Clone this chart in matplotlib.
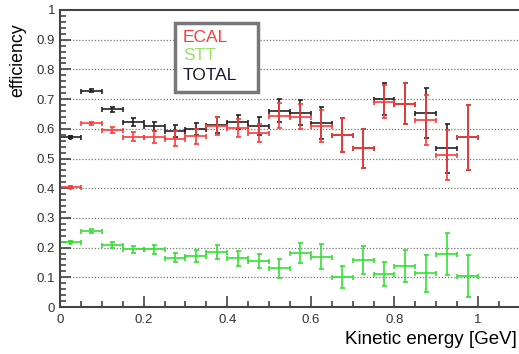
import matplotlib.pyplot as plt
from matplotlib.ticker import MultipleLocator

# bin centres [GeV], half-width 0.025
energy = [0.025, 0.075, 0.125, 0.175, 0.225, 0.275, 0.325, 0.375, 0.425, 0.475,
          0.525, 0.575, 0.625, 0.675, 0.725, 0.775, 0.825, 0.875, 0.925, 0.975]
half_bin = 0.025

ecal = [0.405, 0.618, 0.596, 0.573, 0.573, 0.567, 0.575, 0.609, 0.604, 0.587,
        0.644, 0.641, 0.609, 0.580, 0.534, 0.691, 0.684, 0.630, 0.512, 0.571]
ecal_err = [0.003, 0.006, 0.010, 0.015, 0.020, 0.025, 0.025, 0.030, 0.030, 0.030,
            0.042, 0.042, 0.055, 0.057, 0.065, 0.056, 0.069, 0.085, 0.084, 0.110]

stt = [0.220, 0.255, 0.208, 0.194, 0.194, 0.166, 0.172, 0.185, 0.164, 0.155,
       0.130, 0.181, 0.170, 0.102, 0.158, 0.111, 0.137, 0.113, 0.178, 0.104]
stt_err = [0.002, 0.006, 0.010, 0.012, 0.015, 0.015, 0.020, 0.025, 0.025, 0.025,
           0.031, 0.034, 0.042, 0.037, 0.048, 0.040, 0.054, 0.061, 0.070, 0.071]

total = [0.573, 0.728, 0.666, 0.623, 0.609, 0.594, 0.598, 0.613, 0.623, 0.610,
         0.661, 0.654, 0.618, 0.580, 0.534, 0.700, 0.684, 0.652, 0.534, 0.571]
total_err = [0.003, 0.005, 0.008, 0.014, 0.015, 0.020, 0.020, 0.027, 0.025, 0.030,
             0.039, 0.042, 0.054, 0.057, 0.065, 0.055, 0.069, 0.084, 0.083, 0.110]

plt.rcParams['font.family'] = ['Liberation Sans', 'DejaVu Sans']

fig = plt.figure(figsize=(5.19, 3.54), dpi=100)
ax = fig.add_axes([60 / 519, 47 / 354, 1 - 60 / 519, 297 / 354])

for vals, errs, col in [(total, total_err, '#222222'),
                        (ecal, ecal_err, '#ff3b3b'),
                        (stt, stt_err, '#33e033')]:
    ax.errorbar(energy, vals, xerr=half_bin, yerr=errs, fmt='none', ecolor=col,
                elinewidth=1.2, capsize=1.8, capthick=1.2)
    ax.plot(energy[0], vals[0], 'o', color=col, ms=2.5)

ax.set_xlim(0, 1.098)
ax.set_ylim(0, 1)
for y in [0.1, 0.2, 0.3, 0.4, 0.5, 0.6, 0.7, 0.8, 0.9]:
    ax.axhline(y, color='#777777', lw=0.9, ls=(0, (1, 1.5)), zorder=0)

ax.xaxis.set_minor_locator(MultipleLocator(0.05))
ax.yaxis.set_minor_locator(MultipleLocator(0.02))
ax.set_xticks([0, 0.2, 0.4, 0.6, 0.8, 1.0])
ax.set_xticklabels(['0', '0.2', '0.4', '0.6', '0.8', '1'])
ax.set_yticks([0, 0.1, 0.2, 0.3, 0.4, 0.5, 0.6, 0.7, 0.8, 0.9, 1.0])
ax.set_yticklabels(['0', '0.1', '0.2', '0.3', '0.4', '0.5', '0.6', '0.7', '0.8', '0.9', '1'])
ax.tick_params(which='both', direction='in', colors='#444444', labelcolor='#333333',
               labelsize=9.5, width=1.2)
ax.tick_params(which='major', length=8)
ax.tick_params(which='minor', length=4)
ax.tick_params(axis='x', pad=5)
for s in ['left', 'bottom', 'top']:
    ax.spines[s].set_color('#444444')
    ax.spines[s].set_linewidth(1.5)
ax.spines['right'].set_visible(False)

fig.text(18 / 519, 1 - 60 / 354, 'efficiency', rotation=90, fontsize=12.8,
         ha='center', va='center')
fig.text(517 / 519, 1 - 340 / 354, 'Kinetic energy [GeV]', fontsize=13.5,
         ha='right', va='center')

# legend box drawn by hand (ROOT-style)
fig.patches.append(plt.Rectangle((175 / 519, 1 - 92 / 354), 83 / 519, 69 / 354,
                                 transform=fig.transFigure, fill=True, fc='white',
                                 ec='#777777', lw=2.5, zorder=5))
for txt, col, ypix in [('ECAL', '#ff3b3b', 38), ('STT', '#9be06a', 56), ('TOTAL', '#1a1a2e', 75)]:
    fig.text(183 / 519, 1 - ypix / 354, txt, color=col, fontsize=12.5, va='center', zorder=6)

fig.savefig('out.png', dpi=100)
